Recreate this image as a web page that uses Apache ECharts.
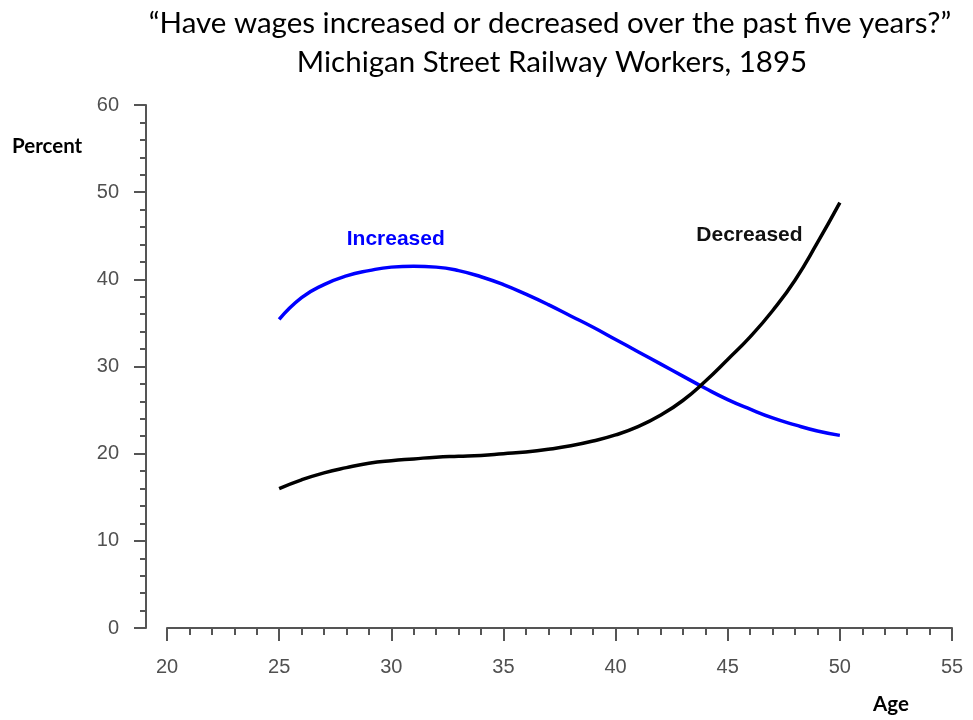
<!DOCTYPE html>
<html>
<head>
<meta charset="utf-8">
<script src="https://cdn.jsdelivr.net/npm/echarts@6/dist/echarts.min.js"></script>
<style>html,body{margin:0;padding:0;background:#fff;}#chart{width:973px;height:720px;}</style>
</head>
<body>
<div id="chart"></div>
<script>
var ages = [25,26,27,28,29,30,31,32,33,34,35,36,37,38,39,40,41,42,43,44,45,46,47,48,49,50];
var increased = [35.4,37.9,39.4,40.4,41.0,41.4,41.5,41.4,41.0,40.3,39.4,38.3,37.1,35.8,34.5,33.1,31.7,30.3,28.9,27.5,26.2,25.1,24.1,23.3,22.6,22.1];
var decreased = [16.0,17.0,17.8,18.4,18.9,19.2,19.4,19.6,19.7,19.8,20.0,20.2,20.5,20.9,21.45,22.15,23.1,24.4,26.1,28.3,30.8,33.4,36.4,39.9,44.2,48.8];
var titleLines = ['\u201cHave wages increased or decreased over the past five years?\u201d', 'Michigan Street Railway Workers, 1895'];
var seriesNames = ['Increased', 'Decreased'];
var yAxisName = 'Percent';
var xAxisName = 'Age';

function pairs(xs, ys){ return xs.map(function(x,i){ return [x, ys[i]]; }); }

var chart = echarts.init(document.getElementById('chart'), null, {renderer:'canvas'});
var axisColor = '#555';
var labelFont = {color:'#505050', fontSize:20, fontFamily:'Liberation Sans, Arial, sans-serif'};
var titleStyle = {fontFamily:'Lato, sans-serif', fontWeight:'normal', fontSize:29.5, color:'#000'};
var nameStyle = {fontFamily:'Lato, sans-serif', fontWeight:'bold', fontSize:20.5, color:'#000'};
chart.setOption({
  animation:false,
  backgroundColor:'#fff',
  grid:{left:167, right:21, top:105, bottom:92},
  title:[
    {text:titleLines[0], left:550, top:8, padding:0, textAlign:'center', textStyle:titleStyle},
    {text:titleLines[1], left:552, top:47, padding:0, textAlign:'center', textStyle:titleStyle},
    {text:yAxisName, left:12, top:136, padding:0, textStyle:nameStyle},
    {text:xAxisName, left:873, top:694, padding:0, textStyle:nameStyle}
  ],
  xAxis:{
    type:'value', min:20, max:55, interval:5,
    axisLine:{show:true, lineStyle:{color:axisColor, width:2}},
    axisTick:{show:true, length:13, lineStyle:{color:axisColor, width:2}},
    minorTick:{show:true, splitNumber:5, length:7, lineStyle:{color:axisColor, width:2}},
    axisLabel:Object.assign({margin:29}, labelFont),
    splitLine:{show:false}
  },
  yAxis:{
    type:'value', min:0, max:60, interval:10, offset:21,
    axisLine:{show:true, lineStyle:{color:axisColor, width:2}},
    axisTick:{show:true, length:12, lineStyle:{color:axisColor, width:2}},
    minorTick:{show:true, splitNumber:5, length:6, lineStyle:{color:axisColor, width:2}},
    axisLabel:Object.assign({margin:27}, labelFont),
    splitLine:{show:false}
  },
  series:[
    {name:seriesNames[0], type:'line', smooth:true, showSymbol:false, data:pairs(ages, increased),
     lineStyle:{color:'#0000ff', width:3.5}, itemStyle:{color:'#0000ff'},
     markPoint:{symbol:'circle', symbolSize:0, data:[{coord:[30.2, 44.6], value:seriesNames[0]}],
       label:{show:true, position:'inside', formatter:seriesNames[0], color:'#0000ff', fontSize:21, fontWeight:'bold', fontFamily:'Liberation Sans, Arial, sans-serif'}}},
    {name:seriesNames[1], type:'line', smooth:true, showSymbol:false, data:pairs(ages, decreased),
     lineStyle:{color:'#000', width:3.5}, itemStyle:{color:'#000'},
     markPoint:{symbol:'circle', symbolSize:0, data:[{coord:[45.97, 45.1], value:seriesNames[1]}],
       label:{show:true, position:'inside', formatter:seriesNames[1], color:'#111', fontSize:21, fontWeight:'bold', fontFamily:'Liberation Sans, Arial, sans-serif'}}}
  ]
});
</script>
</body>
</html>
